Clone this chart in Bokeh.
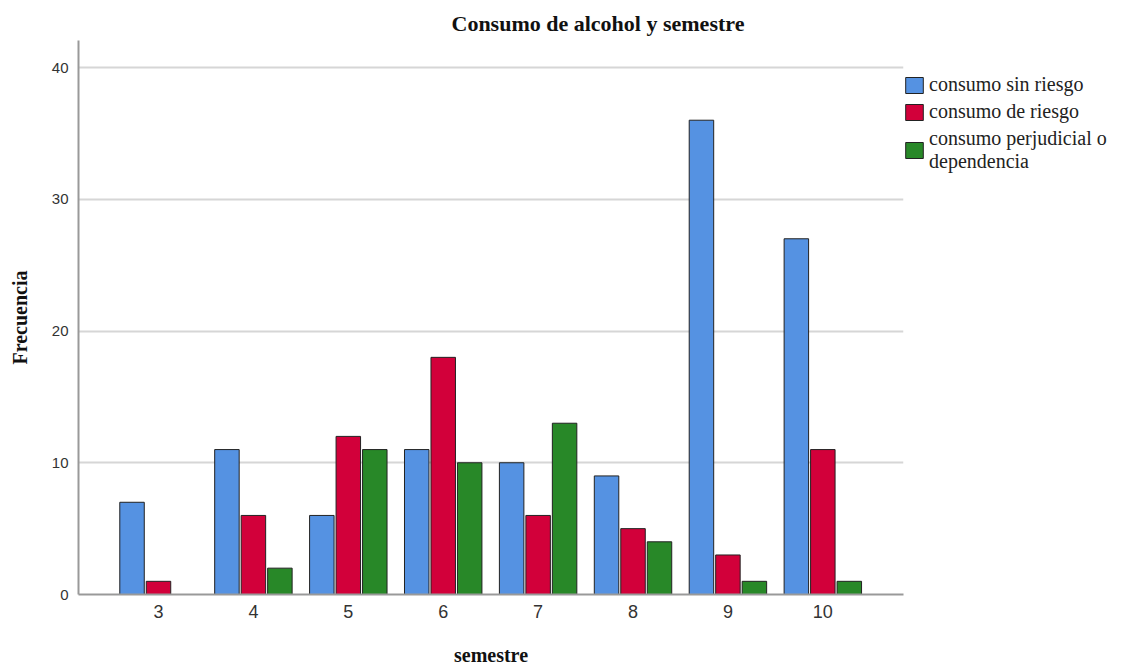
from bokeh.plotting import figure
from bokeh.models import (ColumnDataSource, Range1d, FixedTicker, Legend, LegendItem)
from bokeh.transform import dodge
from bokeh.embed import file_html
from bokeh.resources import INLINE

# ---- data ----
semestres = [3, 4, 5, 6, 7, 8, 9, 10]
sin_riesgo = [7, 11, 6, 11, 10, 9, 36, 27]
de_riesgo = [1, 6, 12, 18, 6, 5, 3, 11]
perjudicial = [0, 2, 11, 10, 13, 4, 1, 1]
series_labels = ["consumo sin riesgo", "consumo de riesgo",
                 "consumo perjudicial o\ndependencia"]
series_colors = ["#5592E2", "#D2003A", "#288828"]
y_ticks = [0, 10, 20, 30, 40]

src = ColumnDataSource(dict(sem=semestres, a=sin_riesgo, b=de_riesgo, c=perjudicial))

p = figure(frame_width=825, frame_height=554, output_backend="svg", toolbar_location=None,
           x_range=Range1d(2.157, 10.85), y_range=Range1d(0, 42.05),
           min_border_left=78, min_border_right=0, min_border_top=40,
           min_border_bottom=0)
p.background_fill_color = "white"
p.border_fill_color = "white"
p.outline_line_color = None

bw = 0.258
step = 0.279
renderers = []
for col, off, colr in zip(["a", "b", "c"], [-step, 0.0, step], series_colors):
    r = p.vbar(x=dodge("sem", off), top=col, bottom=0, width=bw, source=src,
               fill_color=colr, line_color="#222222", line_width=1)
    renderers.append(r)

# title
p.title.text = "Consumo de alcohol y semestre"
p.title.text_font = "Liberation Serif"
p.title.text_font_size = "22px"
p.title.text_font_style = "bold"
p.title.text_color = "#111111"
p.title.align = "left"
p.title.offset = 373
p.title.standoff = 9

# axes
p.xaxis.ticker = FixedTicker(ticks=semestres)
p.yaxis.ticker = FixedTicker(ticks=y_ticks)
p.xgrid.grid_line_color = None
p.ygrid.grid_line_color = "#D6D6D6"
p.ygrid.grid_line_width = 2

for ax in (p.xaxis[0], p.yaxis[0]):
    ax.axis_line_color = "#999999"
    ax.axis_line_width = 2
    ax.major_tick_line_color = None
    ax.minor_tick_line_color = None
    ax.major_tick_out = 0
    ax.major_tick_in = 0
    ax.minor_tick_out = 0
    ax.major_label_text_font = "Liberation Sans"
    ax.major_label_text_color = "#333333"
    ax.axis_label_text_font = "Liberation Serif"
    ax.axis_label_text_font_style = "bold"
    ax.axis_label_text_font_size = "20px"
    ax.axis_label_text_color = "#111111"

p.xaxis.major_label_text_font_size = "18px"
p.xaxis.major_label_standoff = 10
p.xaxis.axis_label = "semestre"
p.xaxis.axis_label_standoff = 23

p.yaxis.major_label_text_font_size = "15px"
p.yaxis.major_label_standoff = 10
p.yaxis.axis_label = "Frecuencia"
p.yaxis.axis_label_standoff = 18

legend = Legend(items=[LegendItem(label=l, renderers=[r]) for l, r in zip(series_labels, renderers)],
                location=(0, 421))
legend.label_text_font = "Liberation Serif"
legend.label_text_font_size = "20px"
legend.label_text_color = "#222222"
legend.glyph_width = 22
legend.glyph_height = 20
legend.label_standoff = 4
legend.spacing = 4
legend.padding = 1
legend.margin = 0
legend.border_line_color = None
legend.background_fill_alpha = 0
p.add_layout(legend, "right")

open("out.html", "w").write(file_html(p, INLINE))
